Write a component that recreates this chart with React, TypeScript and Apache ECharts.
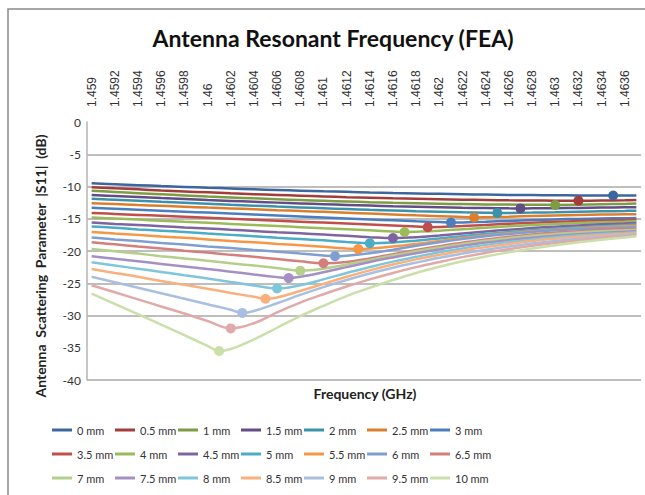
import React, { useEffect, useRef } from "react";
import * as echarts from "echarts";

// Frequency sample points (GHz)
const FREQS = [1.459, 1.4592, 1.4594, 1.4596, 1.4598, 1.46, 1.4602, 1.4604, 1.4606, 1.4608, 1.461, 1.4612, 1.4614, 1.4616, 1.4618, 1.462, 1.4622, 1.4624, 1.4626, 1.4628, 1.463, 1.4632, 1.4634, 1.4636, 1.4637];

// Tick labels on the top frequency axis
const X_TICKS = [1.459, 1.4592, 1.4594, 1.4596, 1.4598, 1.46, 1.4602, 1.4604, 1.4606, 1.4608, 1.461, 1.4612, 1.4614, 1.4616, 1.4618, 1.462, 1.4622, 1.4624, 1.4626, 1.4628, 1.463, 1.4632, 1.4634, 1.4636];

const SERIES_NAMES = ["0 mm", "0.5 mm", "1 mm", "1.5 mm", "2 mm", "2.5 mm", "3 mm", "3.5 mm", "4 mm", "4.5 mm", "5 mm", "5.5 mm", "6 mm", "6.5 mm", "7 mm", "7.5 mm", "8 mm", "8.5 mm", "9 mm", "9.5 mm", "10 mm"];

const COLORS = ["#3d669f", "#a23d3b", "#7d9c43", "#634d86", "#3a93aa", "#dd7e2e", "#4a7ebf", "#c04f4c", "#9bbb59", "#8064a2", "#4bacc6", "#f79646", "#7f9fd3", "#d47f7d", "#b5cf8b", "#a590c4", "#80c6da", "#f9b07d", "#a9bfe0", "#e1a9a8", "#cadfa9"];

// |S11| (dB) at FREQS, one array per gap
const S_0 = [-9.5, -9.65, -9.79, -9.93, -10.06, -10.19, -10.31, -10.43, -10.54, -10.64, -10.74, -10.83, -10.92, -11.0, -11.07, -11.14, -11.2, -11.25, -11.3, -11.33, -11.36, -11.38, -11.39, -11.4, -11.38];
const S_05 = [-10.1, -10.28, -10.44, -10.61, -10.76, -10.91, -11.06, -11.19, -11.31, -11.43, -11.54, -11.65, -11.74, -11.83, -11.91, -11.98, -12.04, -12.09, -12.14, -12.17, -12.19, -12.2, -12.18, -12.14, -12.1];
const S_1 = [-10.65, -10.84, -11.03, -11.21, -11.38, -11.54, -11.69, -11.84, -11.97, -12.1, -12.22, -12.33, -12.43, -12.52, -12.6, -12.67, -12.73, -12.78, -12.81, -12.84, -12.85, -12.82, -12.76, -12.7, -12.65];
const S_15 = [-11.3, -11.47, -11.63, -11.79, -11.94, -12.09, -12.23, -12.37, -12.5, -12.63, -12.75, -12.86, -12.96, -13.06, -13.15, -13.23, -13.3, -13.35, -13.39, -13.39, -13.36, -13.32, -13.27, -13.22, -13.2];
const S_2 = [-11.9, -12.06, -12.22, -12.38, -12.53, -12.68, -12.83, -12.97, -13.11, -13.24, -13.37, -13.49, -13.61, -13.72, -13.83, -13.92, -14.01, -14.08, -14.09, -14.05, -13.99, -13.92, -13.85, -13.79, -13.75];
const S_25 = [-12.6, -12.73, -12.87, -13.0, -13.13, -13.27, -13.4, -13.53, -13.67, -13.8, -13.93, -14.07, -14.2, -14.33, -14.47, -14.6, -14.72, -14.77, -14.68, -14.57, -14.48, -14.41, -14.35, -14.31, -14.3];
const S_3 = [-13.3, -13.45, -13.6, -13.75, -13.9, -14.05, -14.2, -14.35, -14.5, -14.65, -14.8, -14.95, -15.1, -15.25, -15.4, -15.52, -15.57, -15.46, -15.33, -15.21, -15.1, -15.02, -14.96, -14.92, -14.9];
const S_35 = [-14.1, -14.25, -14.4, -14.55, -14.7, -14.85, -15.0, -15.15, -15.3, -15.45, -15.6, -15.75, -15.9, -16.05, -16.2, -16.26, -16.12, -15.95, -15.78, -15.62, -15.48, -15.36, -15.26, -15.19, -15.15];
const S_4 = [-14.8, -14.97, -15.13, -15.3, -15.47, -15.63, -15.8, -15.97, -16.13, -16.3, -16.47, -16.63, -16.8, -16.97, -17.0, -16.85, -16.62, -16.4, -16.18, -15.98, -15.8, -15.65, -15.53, -15.45, -15.4];
const S_45 = [-15.6, -15.8, -15.95, -16.15, -16.35, -16.5, -16.7, -16.9, -17.1, -17.25, -17.45, -17.65, -17.85, -18.0, -17.88, -17.6, -17.28, -16.97, -16.7, -16.45, -16.23, -16.03, -15.87, -15.73, -15.65];
const S_5 = [-16.2, -16.4, -16.65, -16.85, -17.05, -17.3, -17.5, -17.7, -17.95, -18.15, -18.35, -18.6, -18.8, -18.68, -18.4, -18.05, -17.7, -17.35, -17.05, -16.78, -16.55, -16.35, -16.17, -16.0, -15.9];
const S_55 = [-17.05, -17.3, -17.5, -17.75, -17.95, -18.2, -18.45, -18.65, -18.9, -19.1, -19.35, -19.6, -19.62, -19.3, -18.9, -18.45, -18.0, -17.6, -17.25, -16.95, -16.7, -16.5, -16.33, -16.18, -16.1];
const S_6 = [-17.9, -18.2, -18.45, -18.75, -19.0, -19.3, -19.55, -19.85, -20.1, -20.4, -20.68, -20.72, -20.35, -19.8, -19.2, -18.65, -18.15, -17.7, -17.35, -17.05, -16.8, -16.62, -16.48, -16.37, -16.3];
const S_65 = [-18.65, -18.97, -19.3, -19.6, -19.95, -20.25, -20.6, -20.9, -21.25, -21.6, -21.9, -21.7, -21.15, -20.5, -19.85, -19.25, -18.7, -18.2, -17.8, -17.45, -17.15, -16.92, -16.75, -16.6, -16.5];
const S_7 = [-19.7, -20.05, -20.4, -20.8, -21.15, -21.5, -21.9, -22.25, -22.65, -23.05, -22.75, -22.1, -21.4, -20.7, -20.05, -19.45, -18.9, -18.4, -18.0, -17.65, -17.35, -17.12, -16.95, -16.8, -16.7];
const S_75 = [-20.8, -21.2, -21.6, -22.0, -22.4, -22.8, -23.2, -23.65, -24.05, -24.0, -23.3, -22.5, -21.7, -21.0, -20.35, -19.75, -19.2, -18.7, -18.3, -17.95, -17.65, -17.4, -17.2, -17.02, -16.9];
const S_8 = [-21.75, -22.25, -22.75, -23.25, -23.75, -24.25, -24.8, -25.35, -25.8, -25.3, -24.4, -23.4, -22.5, -21.65, -20.9, -20.2, -19.6, -19.05, -18.6, -18.2, -17.87, -17.6, -17.38, -17.2, -17.1];
const S_85 = [-22.8, -23.4, -24.0, -24.65, -25.25, -25.85, -26.5, -27.1, -27.2, -26.2, -25.1, -24.0, -23.0, -22.1, -21.3, -20.6, -19.95, -19.4, -18.9, -18.45, -18.1, -17.8, -17.55, -17.35, -17.25];
const S_9 = [-24.0, -24.85, -25.7, -26.55, -27.4, -28.25, -29.1, -29.3, -28.1, -26.8, -25.6, -24.5, -23.5, -22.6, -21.8, -21.05, -20.4, -19.8, -19.3, -18.85, -18.45, -18.1, -17.8, -17.55, -17.4];
const S_95 = [-25.3, -26.4, -27.5, -28.6, -29.7, -30.85, -32.0, -31.2, -29.5, -28.0, -26.7, -25.5, -24.4, -23.4, -22.5, -21.7, -20.95, -20.3, -19.7, -19.2, -18.75, -18.35, -18.0, -17.7, -17.55];
const S_10 = [-26.6, -28.2, -29.8, -31.4, -33.05, -34.7, -35.2, -33.7, -31.9, -30.1, -28.5, -27.0, -25.7, -24.5, -23.4, -22.45, -21.6, -20.85, -20.2, -19.6, -19.1, -18.65, -18.25, -17.9, -17.7];

const SERIES_VALUES = [S_0, S_05, S_1, S_15, S_2, S_25, S_3, S_35, S_4, S_45, S_5, S_55, S_6, S_65, S_7, S_75, S_8, S_85, S_9, S_95, S_10];

// Resonant frequency (marked point) of each curve
const RES_FREQ = [1.4635, 1.4632, 1.463, 1.4627, 1.4625, 1.4623, 1.4621, 1.4619, 1.4617, 1.4616, 1.4614, 1.4613, 1.4611, 1.461, 1.4608, 1.4607, 1.4606, 1.4605, 1.4603, 1.4602, 1.4601];
const RES_DB = [-11.4, -12.2, -12.85, -13.4, -14.1, -14.8, -15.6, -16.3, -17.05, -18.0, -18.8, -19.7, -20.8, -21.9, -23.05, -24.2, -25.8, -27.4, -29.6, -32.0, -35.5];

const Y_MIN = -40;
const Y_MAX = 0;
const Y_STEP = 5;

function buildData(vals: number[], rf: number, rv: number) {
  const marker = { value: [rf, rv], symbol: "circle", symbolSize: 10 };
  const pts: any[] = [];
  let placed = false;
  FREQS.forEach((f, i) => {
    if (Math.abs(f - rf) < 1e-7) {
      pts.push(marker);
      placed = true;
      return;
    }
    if (!placed && f > rf) {
      pts.push(marker);
      placed = true;
    }
    pts.push({ value: [f, vals[i]] });
  });
  if (!placed) pts.push(marker);
  return pts;
}

export default function App() {
  const ref = useRef<HTMLDivElement>(null);
  useEffect(() => {
    if (!ref.current) return;
    const chart = echarts.init(ref.current, null, { renderer: "svg" });

    const series = SERIES_NAMES.map((name, k) => ({
      name,
      type: "line",
      data: buildData(SERIES_VALUES[k], RES_FREQ[k], RES_DB[k]),
      smooth: 0.4,
      symbol: "none",
      showSymbol: true,
      silent: true,
      lineStyle: { width: 2.5, color: COLORS[k] },
      itemStyle: { color: COLORS[k] },
      emphasis: { disabled: true },
    }));

    const legends = [0, 1, 2, 3, 4, 5, 6].map((c) => ({
      orient: "vertical",
      left: 52 + 63 * c,
      top: 423,
      padding: 0,
      itemWidth: 20,
      itemHeight: 3,
      itemGap: 10,
      icon: "rect",
      selectedMode: false,
      data: [SERIES_NAMES[c], SERIES_NAMES[c + 7], SERIES_NAMES[c + 14]],
      textStyle: { fontFamily: "Lato", fontSize: 11, color: "#333", lineHeight: 14 },
    }));

    chart.setOption({
      animation: false,
      backgroundColor: "#fff",
      color: COLORS,
      grid: { left: 87, top: 122, width: 554, height: 258 },
      xAxis: {
        type: "value",
        position: "top",
        min: 1.45896,
        max: 1.46374,
        axisLine: { show: false },
        axisTick: { show: false },
        splitLine: { show: false },
        axisLabel: {
          customValues: X_TICKS,
          rotate: 90,
          margin: 15,
          fontFamily: "Liberation Sans",
          fontSize: 12,
          color: "#333",
          formatter: (v: number) => String(+v.toFixed(4)),
        },
      },
      yAxis: {
        type: "value",
        min: Y_MIN,
        max: Y_MAX,
        interval: Y_STEP,
        axisLine: { show: true, lineStyle: { color: "#b5b5b5", width: 1.5 } },
        axisTick: { show: false },
        axisLabel: { fontFamily: "Lato", fontSize: 12, color: "#333", margin: 6 },
        splitLine: {
          show: true,
          lineStyle: {
            width: 1.5,
            color: ["#a9a9a9", "rgba(0,0,0,0)", "#a9a9a9", "#a9a9a9", "#a9a9a9", "#a9a9a9", "#a9a9a9", "#a9a9a9", "rgba(0,0,0,0)"],
          },
        },
      },
      legend: legends,
      graphic: [
        {
          type: "rect",
          z: -10,
          shape: { x: 8, y: 9, width: 700, height: 600 },
          style: { fill: "none", stroke: "#8a8a8a", lineWidth: 1.5 },
        },
        {
          type: "text",
          x: 333,
          y: 38,
          style: {
            text: "Antenna Resonant Frequency (FEA)",
            font: "bold 23px Lato",
            fill: "#111",
            align: "center",
            verticalAlign: "middle",
          },
        },
        {
          type: "text",
          x: 40,
          y: 266,
          rotation: Math.PI / 2,
          style: {
            text: "Antenna  Scattering  Parameter  |S11|  (dB)",
            font: "bold 14px Lato",
            fill: "#222",
            align: "center",
            verticalAlign: "middle",
          },
        },
        {
          type: "text",
          x: 365,
          y: 393,
          style: {
            text: "Frequency (GHz)",
            font: "bold 14px Lato",
            fill: "#222",
            align: "center",
            verticalAlign: "middle",
          },
        },
      ],
      series,
    });
    return () => chart.dispose();
  }, []);
  return (
    <div
      ref={ref}
      style={{ position: "fixed", left: 0, top: 0, width: 645, height: 495 }}
    />
  );
}
